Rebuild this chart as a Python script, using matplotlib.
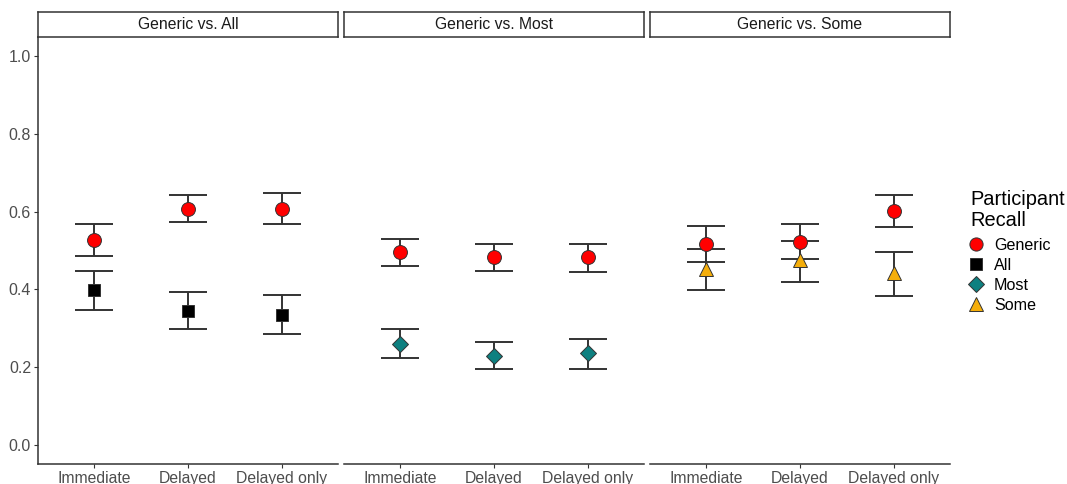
import matplotlib
matplotlib.use("Agg")
import matplotlib.pyplot as plt
from matplotlib.lines import Line2D

plt.rcParams['font.family'] = ['Liberation Sans', 'DejaVu Sans']

conditions = ["Immediate", "Delayed", "Delayed only"]
panels = ["Generic vs. All", "Generic vs. Most", "Generic vs. Some"]
comparison = ["All", "Most", "Some"]

# Generic recall per panel: mean, lower, upper
generic_mean = [[0.528, 0.608, 0.608], [0.495, 0.482, 0.482], [0.517, 0.523, 0.602]]
generic_low = [[0.486, 0.574, 0.569], [0.459, 0.446, 0.445], [0.471, 0.477, 0.560]]
generic_high = [[0.568, 0.644, 0.648], [0.530, 0.517, 0.518], [0.562, 0.569, 0.644]]

# Quantifier recall per panel
quant_mean = [[0.398, 0.345, 0.335], [0.260, 0.229, 0.235], [0.453, 0.475, 0.443]]
quant_low = [[0.346, 0.298, 0.285], [0.222, 0.194, 0.196], [0.399, 0.420, 0.382]]
quant_high = [[0.448, 0.392, 0.385], [0.298, 0.263, 0.272], [0.504, 0.524, 0.497]]

colors = {"Generic": "#FF0000", "All": "#000000", "Most": "#0E8080", "Some": "#F5AE0A"}
markers = {"Generic": "o", "All": "s", "Most": "D", "Some": "^"}
msizes = {"Generic": 10, "All": 8.5, "Most": 8.5, "Some": 10}

W, H = 1067, 484
fig = plt.figure(figsize=(W / 100, H / 100), dpi=100)

lefts = [38, 344, 650]
pw = 300
top_px, bot_px = 37, 464
strip_top = 12

err_color = "#333333"
tick_color = "#4D4D4D"

def add_series(ax, xs, m, lo, hi, name):
    yerr = [[mm - l for mm, l in zip(m, lo)], [h - mm for mm, h in zip(m, hi)]]
    ax.errorbar(xs, m, yerr=yerr, fmt="none", ecolor=err_color, elinewidth=1.4,
                capsize=13.5, capthick=1.4, zorder=2)
    ax.plot(xs, m, linestyle="none", marker=markers[name], markersize=msizes[name],
            markerfacecolor=colors[name], markeredgecolor="#333333", markeredgewidth=0.7,
            zorder=3)

xs = [1, 2, 3]
for i in range(3):
    left = lefts[i] / W
    bottom = (H - bot_px) / H
    height = (bot_px - top_px) / H
    ax = fig.add_axes([left, bottom, pw / W, height])
    add_series(ax, xs, quant_mean[i], quant_low[i], quant_high[i], comparison[i])
    add_series(ax, xs, generic_mean[i], generic_low[i], generic_high[i], "Generic")
    ax.set_xlim(0.4, 3.6)
    ax.set_ylim(-0.05, 1.05)
    ax.set_xticks(xs)
    ax.set_xticklabels(conditions, fontsize=11.3, color=tick_color)
    ax.set_yticks([0.0, 0.2, 0.4, 0.6, 0.8, 1.0])
    ax.set_yticklabels(["0.0", "0.2", "0.4", "0.6", "0.8", "1.0"], fontsize=11.5, color=tick_color)
    for s in ["top", "right"]:
        ax.spines[s].set_visible(False)
    ax.spines["bottom"].set_color("#333333")
    ax.spines["bottom"].set_linewidth(1.1)
    ax.spines["left"].set_color("#333333")
    ax.spines["left"].set_linewidth(1.1)
    ax.tick_params(axis="both", length=3, color="#333333", width=0.8, pad=2)
    if i > 0:
        ax.spines["left"].set_visible(False)
        ax.tick_params(axis="y", left=False, labelleft=False)
    # strip
    sax = fig.add_axes([left, (H - top_px) / H, pw / W, (top_px - strip_top) / H])
    sax.set_xticks([])
    sax.set_yticks([])
    for s in sax.spines.values():
        s.set_color("#333333")
        s.set_linewidth(1.1)
    sax.text(0.5, 0.5, panels[i], ha="center", va="center", fontsize=11.3,
             color="#1A1A1A", transform=sax.transAxes)

# legend
fig.text(970 / W, 1 - 190 / H, "Participant\nRecall", fontsize=14.4, ha="left", va="top",
         color="#000000", linespacing=1.15)
names = ["Generic", "All", "Most", "Some"]
handles = [Line2D([], [], linestyle="none", marker=markers[n], markersize=msizes[n] * 0.95,
                  markerfacecolor=colors[n], markeredgecolor="#333333", markeredgewidth=0.7)
           for n in names]
fig.legend(handles, names, loc="upper left", bbox_to_anchor=(968 / W, 1 - 238 / H),
           frameon=False, fontsize=11.6, handlelength=1.0, handletextpad=0.6,
           labelspacing=0.3, borderpad=0, borderaxespad=0)

fig.savefig("out.png", dpi=100)
